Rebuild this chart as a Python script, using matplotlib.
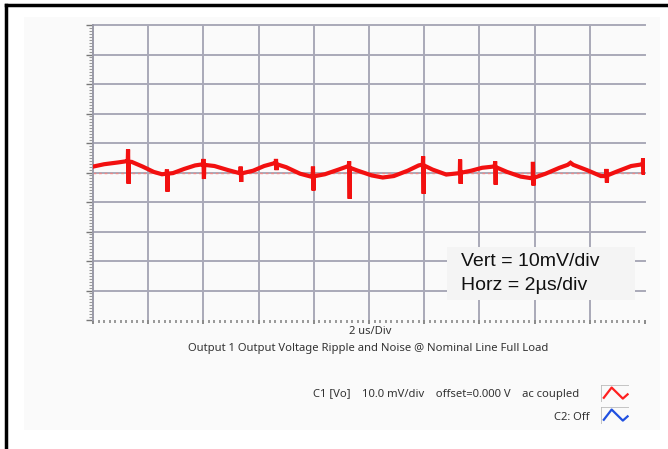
import numpy as np
import matplotlib
matplotlib.use('Agg')
import matplotlib.pyplot as plt
from matplotlib.patches import Rectangle
from matplotlib.lines import Line2D

# scope trace, time in us, voltage in mV (ac coupled)
t_us = [0.00, 0.40, 0.90, 1.20, 1.26, 1.27, 1.29, 1.30, 1.40, 1.80, 2.20, 2.50,
        2.67, 2.68, 2.70, 2.71, 2.90, 3.30, 3.70, 3.99, 4.00, 4.02, 4.03, 4.40,
        4.90, 5.30, 5.34, 5.35, 5.37, 5.38, 5.80, 6.20, 6.55, 6.62, 6.63, 6.65,
        6.66, 7.00, 7.50, 7.90, 7.96, 7.97, 7.99, 8.00, 8.40, 8.90, 9.20, 9.27,
        9.28, 9.30, 9.31, 9.60, 10.1, 10.5, 10.9, 11.4, 11.8, 11.95, 11.96, 11.98,
        11.99, 12.3, 12.8, 13.29, 13.30, 13.32, 13.33, 13.7, 14.1, 14.5, 14.56, 14.57,
        14.59, 14.60, 15.0, 15.5, 15.93, 15.94, 15.96, 15.97, 16.4, 16.9, 17.2, 17.3,
        17.4, 17.9, 18.4, 18.59, 18.60, 18.62, 18.63, 19.0, 19.5, 19.85, 19.92, 19.93,
        19.95, 19.96, 20.0]
v_mv = [2.0, 2.8, 3.4, 3.8, 3.8, 7.8, -3.8, 3.6, 3.6, 2.0, 0.2, -0.6,
        -0.4, 1.0, -6.5, -0.4, -0.2, 1.2, 2.4, 2.8, 4.6, -2.2, 2.6, 2.2,
        0.8, -0.2, -0.2, 2.0, -3.2, -0.3, 0.6, 2.2, 3.1, 3.0, 4.6, 0.8,
        2.8, 1.8, -0.4, -1.4, -1.4, 2.0, -6.1, -1.3, -0.6, 1.0, 2.0, 2.0,
        3.8, -8.9, 1.6, 0.6, -1.0, -1.7, -1.2, 0.6, 2.4, 2.7, 5.5, -7.2,
        2.4, 1.0, -0.7, -0.2, 4.4, -3.8, -0.1, 0.6, 1.6, 2.0, 2.0, 3.8,
        -4.1, 1.8, 0.2, -1.4, -2.0, 3.6, -4.4, -1.8, -0.4, 1.6, 2.6, 3.3,
        2.6, 0.8, -1.2, -1.2, 1.2, -3.4, -1.0, 0.4, 2.2, 2.7, 2.7, 4.8,
        -0.7, 2.6, 2.7]

x_div = 2      # us per division
y_div = 10     # mV per division
n_div = 10

W, H = 668, 449
fig = plt.figure(figsize=(W / 100, H / 100), dpi=100)
fig.patch.set_facecolor('white')

def fx(px):
    return px / W

def fy(py):
    return 1 - py / H

# light panel behind the scope picture
fig.add_artist(Rectangle((fx(24), fy(430)), fx(660) - fx(24), fy(17) - fy(430),
                         transform=fig.transFigure, facecolor='#fafafa',
                         edgecolor='none', zorder=0))
# black frame (top and left visible)
fig.add_artist(Line2D([fx(6), fx(6)], [0, fy(5)], transform=fig.transFigure,
                      color='black', lw=2.5))
fig.add_artist(Line2D([fx(6), 1], [fy(5), fy(5)], transform=fig.transFigure,
                      color='black', lw=2.5))

ax = fig.add_axes([fx(93), fy(320), fx(645) - fx(93), fy(25) - fy(320)])
ax.set_facecolor('#fafafa')
x_max = x_div * n_div
y_half = y_div * n_div / 2
ax.set_xlim(0, x_max)
ax.set_ylim(-y_half, y_half)

grid_c = '#a9a9b8'
for gx in np.arange(x_div, x_max, x_div):
    ax.axvline(gx, color=grid_c, lw=1.4, zorder=1)
for gy in np.arange(-y_half + y_div, y_half + 0.1, y_div):
    ax.axhline(gy, color=grid_c, lw=1.4, zorder=1, clip_on=False)

for s in ['top', 'right', 'bottom']:
    ax.spines[s].set_visible(False)
ax.spines['left'].set_color('#9a9aa8')
ax.spines['left'].set_linewidth(1.4)

ax.set_xticks(np.arange(0, x_max + 0.01, x_div))
ax.set_xticks(np.arange(0, x_max + 0.01, x_div / 10), minor=True)
ax.set_yticks(np.arange(-y_half, y_half + 0.1, y_div))
ax.set_yticks(np.arange(-y_half, y_half + 0.1, y_div / 10), minor=True)
ax.set_xticklabels([])
ax.set_yticklabels([])
ax.tick_params(axis='x', which='major', direction='out', length=3, width=1.2, color='#777')
ax.tick_params(axis='x', which='minor', direction='out', length=1.8, width=1.2, color='#888')
ax.tick_params(axis='y', which='major', direction='out', length=5, width=1.0, color='#777')
ax.tick_params(axis='y', which='minor', direction='out', length=3, width=0.8, color='#999')

ax.axhline(0, color='#ee8888', lw=1.0, ls=(0, (2, 2)), zorder=2)
ax.plot(t_us, v_mv, color='#f21010', lw=3.0, zorder=3, solid_joinstyle='miter')

# annotation box
fig.add_artist(Rectangle((fx(447), fy(300)), fx(635) - fx(447), fy(247) - fy(300),
                         transform=fig.transFigure, facecolor='#f4f4f4',
                         edgecolor='none', zorder=2))
fig.text(fx(461), fy(262), 'Vert = 10mV/div', fontsize=14, family='Liberation Sans',
         va='center', ha='left', color='#111', zorder=4)
fig.text(fx(461), fy(285), 'Horz = 2\u00b5s/div', fontsize=14, family='Liberation Sans',
         va='center', ha='left', color='#111', zorder=4)

scope_font = dict(family='Noto Sans', color='#333')
fig.text(fx(370), fy(331), '2 us/Div', fontsize=8, ha='center', va='center', **scope_font)
fig.text(fx(368), fy(348), 'Output 1 Output Voltage Ripple and Noise @ Nominal Line Full Load',
         fontsize=8.1, ha='center', va='center', **scope_font)
fig.text(fx(579), fy(395), 'C1 [Vo]    10.0 mV/div    offset=0.000 V    ac coupled',
         fontsize=8.1, ha='right', va='center', **scope_font)
fig.text(fx(590), fy(417), 'C2: Off', fontsize=8.1, ha='right', va='center', **scope_font)

# channel icons
for top, col in [(385, '#ff2020'), (407, '#2050e0')]:
    ic = fig.add_axes([fx(601), fy(top + 17), fx(629) - fx(601), fy(top) - fy(top + 17)])
    ic.set_xlim(0, 1)
    ic.set_ylim(0, 1)
    ic.axis('off')
    ic.plot([0, 0, 1], [0, 1, 1], color='#bbbbbb', lw=1.2)
    ic.plot([0.1, 0.38, 0.78, 0.95], [0.25, 0.85, 0.2, 0.45], color=col, lw=1.6)

fig.savefig('out.png', dpi=100)
